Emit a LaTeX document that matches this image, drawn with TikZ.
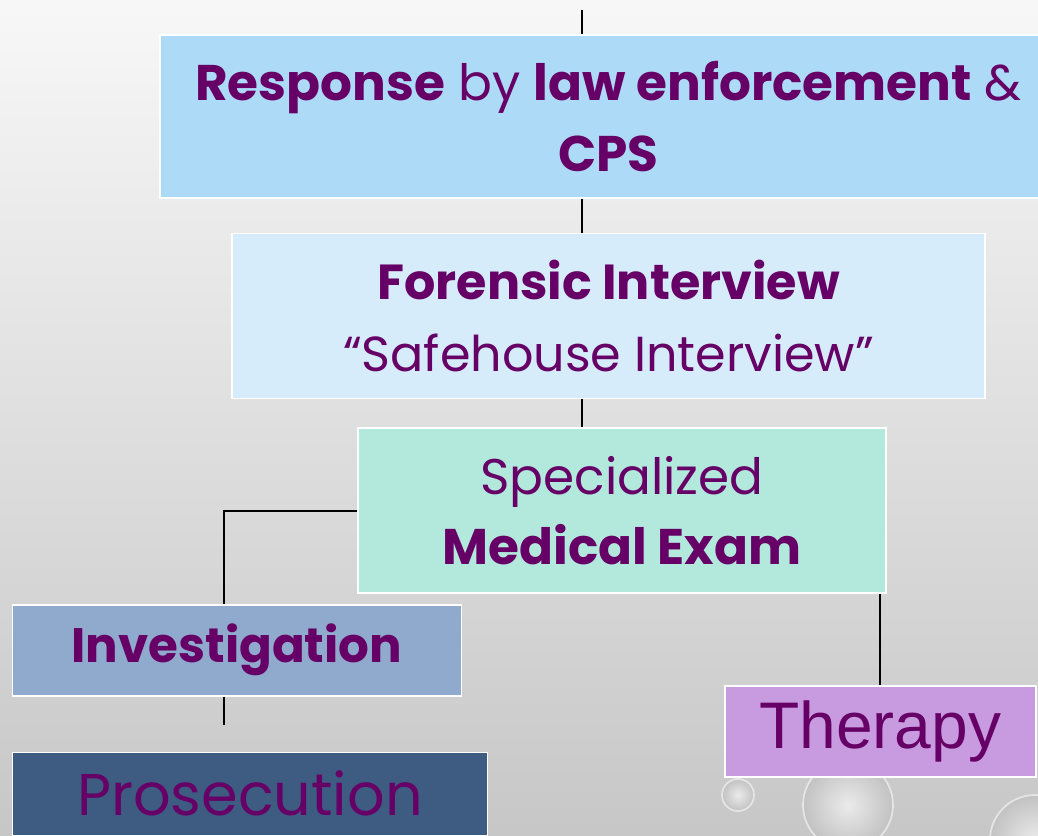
\documentclass[tikz,border=0pt]{standalone}
\usepackage{fontspec}
\setmainfont{Poppins}
\newfontfamily\arialfont{Liberation Sans}
\usetikzlibrary{positioning}
\definecolor{plum}{HTML}{660066}
\definecolor{skyfill}{HTML}{ADDAF7}
\definecolor{palefill}{HTML}{D6ECFB}
\definecolor{mintfill}{HTML}{B3E9DD}
\definecolor{steelfill}{HTML}{8FAACC}
\definecolor{navyfill}{HTML}{3E5B82}
\definecolor{lilacfill}{HTML}{C89BE0}
\tikzset{
  box/.style={draw=white, line width=0.9pt, align=center, text=plum, inner sep=0pt},
  link/.style={line width=1.1pt},
  bubble/.style={draw=white!90!black, line width=1pt, inner color=black!8, outer color=black!24},
}

\begin{document}
\begin{tikzpicture}
\clip (0,0) rectangle (20.76,-16.7);
\shade[top color=black!3, bottom color=black!22] (0,0) rectangle (20.76,-16.7);
\shade[bubble] (14.76,-15.9) circle (0.32);
\shade[bubble] (16.96,-16.1) circle (0.9);
\shade[bubble] (20.7,-16.8) circle (0.9);

\node[box, fill=skyfill, minimum width=17.94cm, minimum height=3.26cm,
  font=\fontsize{28.5}{40}\selectfont] (resp) at (12.17,-2.33)
  {\textbf{Response} by \textbf{law enforcement} \&\\ \textbf{CPS}};
\node[box, fill=palefill, minimum width=15.06cm, minimum height=3.3cm,
  font=\fontsize{28}{41}\selectfont, below=0.68cm of resp] (forensic)
  {\textbf{Forensic Interview}\\ “Safehouse Interview”};
\node[box, fill=mintfill, minimum width=10.56cm, minimum height=3.3cm,
  font=\fontsize{28.5}{40}\selectfont, below=0.56cm of forensic, xshift=0.27cm] (spec)
  {Specialized\\ \textbf{Medical Exam}};
\node[box, fill=steelfill, minimum width=8.98cm, minimum height=1.82cm,
  font=\bfseries\fontsize{27.5}{30}\selectfont,
  below left=0.2cm and -2.1cm of spec.south west] (invest) {Investigation};
\node[box, fill=navyfill, minimum width=9.5cm, minimum height=1.66cm,
  font=\fontsize{33.5}{36}\selectfont,
  below right=1.1cm and 0cm of invest.south west] (prosec) {Prosecution};
\node[box, fill=lilacfill, minimum width=6.22cm, minimum height=1.82cm,
  font=\arialfont\fontsize{37.5}{42}\selectfont,
  below=1.82cm of spec.south east, xshift=-0.13cm] (therapy) {Therapy};

\coordinate (top) at (11.64,-0.2);
\coordinate[below=0.56cm of invest.south, xshift=-0.25cm] (invend);
\draw[link] (top) -- (top |- resp.north);
\draw[link] (resp.south -| top) -- (forensic.north -| top);
\draw[link] (forensic.south -| top) -- (spec.north -| top);
\draw[link] (spec.west) -| ([xshift=-0.25cm]invest.north);
\draw[link] (invest.south -| invend) -- (invend);
\draw[link] (therapy.north) -- (therapy.north |- spec.south);
\end{tikzpicture}
\end{document}
